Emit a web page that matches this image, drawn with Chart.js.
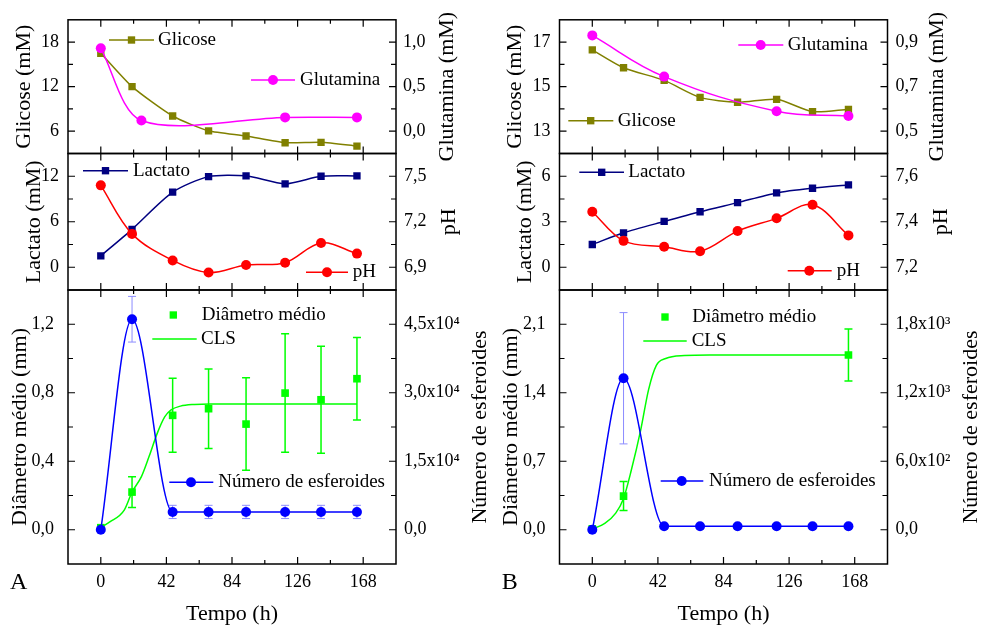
<!DOCTYPE html>
<html lang="pt">
<head>
<meta charset="utf-8">
<title>Cultivo de esferoides</title>
<script src="https://cdn.jsdelivr.net/npm/chart.js@4.4.1/dist/chart.umd.min.js"></script>
<style>
  body { margin: 0; background: #fff; }
  #fig { position: relative; width: 985px; height: 627px; overflow: hidden; }
  #fig canvas { position: absolute; top: 0; }
</style>
</head>
<body>
<div id="fig">
  <canvas id="aTopo" width="490" height="627" style="left:0"></canvas>
  <canvas id="aMeio" width="490" height="627" style="left:0"></canvas>
  <canvas id="aBase" width="490" height="627" style="left:0"></canvas>
  <canvas id="bTopo" width="495" height="627" style="left:490px"></canvas>
  <canvas id="bMeio" width="495" height="627" style="left:490px"></canvas>
  <canvas id="bBase" width="495" height="627" style="left:490px"></canvas>
</div>
<script>
// --- DADOS ---
const tempo = [0, 20, 46, 69, 93, 118, 141, 164];   // h
const xMaiores = [0, 42, 84, 126, 168];
const xMenores = [21, 63, 105, 147];

// Painel A
const glicoseA = [16.5, 12.0, 8.05, 6.05, 5.35, 4.45, 4.5, 4.0];
const tempoGlutaminaA = [0, 26, 118, 164];
const glutaminaA = [0.93, 0.12, 0.155, 0.155];
const lactatoA = [1.5, 5.0, 9.9, 11.95, 12.05, 11.0, 12.0, 12.05];
const phA = [7.44, 7.12, 6.945, 6.865, 6.915, 6.93, 7.06, 6.99];
const diametroA = [0.012, 0.22, 0.668, 0.707, 0.617, 0.798, 0.759, 0.882];
const erroDiametroA = [0, 0.09, 0.216, 0.232, 0.27, 0.346, 0.312, 0.241];
const tempoClsA = [0, 6, 15, 20, 26, 31, 36, 41, 45, 51, 60, 70, 164];
const clsA = [0.014, 0.047, 0.115, 0.22, 0.31, 0.43, 0.56, 0.66, 0.70, 0.722, 0.732, 0.735, 0.735];
const esferoidesA = [0, 46100, 3900, 3900, 3900, 3900, 3900, 3900];
const erroEsferoidesA = [0, 5000, 1450, 1450, 1450, 1450, 1450, 1450];

// Painel B
const glicoseB = [16.65, 15.85, 15.28, 14.52, 14.3, 14.43, 13.88, 13.98];
const tempoGlutaminaB = [0, 46, 118, 164];
const glutaminaB = [0.93, 0.745, 0.59, 0.568];
const lactatoB = [1.5, 2.27, 3.02, 3.66, 4.26, 4.9, 5.21, 5.43];
const phB = [7.444, 7.316, 7.29, 7.27, 7.359, 7.415, 7.475, 7.34];
const tempoDiametroB = [0, 20, 164];
const diametroB = [0.01, 0.344, 1.786];
const erroDiametroB = [0, 0.148, 0.265];
const tempoClsB = [0, 8, 15, 20, 25, 31, 36, 41, 47, 59, 75, 164];
const clsB = [0.007, 0.065, 0.17, 0.32, 0.61, 1.02, 1.43, 1.68, 1.75, 1.78, 1.786, 1.786];
const esferoidesB = [0, 1327, 30, 30, 30, 30, 30, 30];
const erroEsferoidesB = [0, 575, 0, 0, 0, 0, 0, 0];

// Marcas dos eixos y (maiores com rótulo, menores sem)
const ticksGlicoseA = [6, 12, 18], menoresGlicoseA = [9, 15];
const ticksGlutaminaA = [0, 0.5, 1.0], menoresGlutaminaA = [0.25, 0.75];
const ticksLactatoA = [0, 6, 12], menoresLactatoA = [3, 9];
const ticksPhA = [6.9, 7.2, 7.5], menoresPhA = [7.05, 7.35];
const ticksDiametroA = [0, 0.4, 0.8, 1.2], menoresDiametroA = [0.2, 0.6, 1.0];
const ticksEsferoidesA = [0, 15000, 30000, 45000], menoresEsferoidesA = [7500, 22500, 37500];
const ticksGlicoseB = [13, 15, 17], menoresGlicoseB = [14, 16];
const ticksGlutaminaB = [0.5, 0.7, 0.9], menoresGlutaminaB = [0.6, 0.8];
const ticksLactatoB = [0, 3, 6], menoresLactatoB = [1.5, 4.5];
const ticksPhB = [7.2, 7.4, 7.6], menoresPhB = [7.3, 7.5];
const ticksDiametroB = [0, 0.7, 1.4, 2.1], menoresDiametroB = [0.35, 1.05, 1.75];
const ticksEsferoidesB = [0, 600, 1200, 1800], menoresEsferoidesB = [300, 900, 1500];
// --- FIM DOS DADOS ---

const fonte = '"Liberation Serif", "Times New Roman", serif';
const OLIVA = '#808000', MAGENTA = '#ff00ff', MARINHO = '#000080', VERMELHO = '#ff0000',
      VERDE = '#00ff00', AZUL = '#0000ff', AZUL_ERRO = '#8c8cff';

const virgula = (v, d) => v.toFixed(d).replace('.', ',');
const expoentes = { 2: '²', 3: '³', 4: '⁴' };
const cientifico = v => {
  if (v === 0) return '0,0';
  const e = Math.floor(Math.log10(v) + 1e-9);
  return virgula(v / Math.pow(10, e), 1) + 'x10' + expoentes[e];
};
const pts = (xs, ys) => xs.map((x, i) => ({ x: x, y: ys[i] }));

function serie(xs, ys, cor, forma, eixo, extra) {
  return Object.assign({
    data: pts(xs, ys), yAxisID: eixo,
    borderColor: cor, backgroundColor: cor, borderWidth: 1.5,
    pointStyle: forma, pointRadius: forma === 'rect' ? 5.2 : 5,
    pointBorderWidth: 0, pointBackgroundColor: cor, tension: 0.3
  }, extra || {});
}

function marcaPonto(ctx, forma, x, y, r, cor) {
  ctx.fillStyle = cor;
  if (forma === 'rect') {
    const s = r * Math.SQRT2;
    ctx.fillRect(x - s / 2, y - s / 2, s, s);
  } else {
    ctx.beginPath(); ctx.arc(x, y, r, 0, 2 * Math.PI); ctx.fill();
  }
}

const paineis = {};

// moldura, marcas internas, barras de erro, títulos e legendas
const moldura = {
  id: 'moldura',
  beforeDatasetsDraw(chart) {
    const ctx = chart.ctx;
    chart.data.datasets.forEach((ds, i) => {
      if (!ds.erros) return;
      const meta = chart.getDatasetMeta(i);
      const esc = chart.scales[ds.yAxisID];
      ctx.save();
      ctx.strokeStyle = ds.corErro;
      ctx.lineWidth = ds.larguraErro;
      ds.erros.forEach((e, j) => {
        if (!e) return;
        const x = meta.data[j].x, v = ds.data[j].y;
        const y1 = esc.getPixelForValue(v + e), y2 = esc.getPixelForValue(v - e);
        ctx.beginPath();
        ctx.moveTo(x, y1); ctx.lineTo(x, y2);
        ctx.moveTo(x - 4, y1); ctx.lineTo(x + 4, y1);
        ctx.moveTo(x - 4, y2); ctx.lineTo(x + 4, y2);
        ctx.stroke();
      });
      ctx.restore();
    });
  },
  afterDraw(chart) {
    const p = paineis[chart.canvas.id];
    const ctx = chart.ctx, a = chart.chartArea, sc = chart.scales;
    ctx.save();
    ctx.strokeStyle = '#000';
    ctx.lineWidth = 1.5;
    ctx.strokeRect(a.left, a.top, a.right - a.left, a.bottom - a.top);

    ctx.lineWidth = 1.2;
    ctx.beginPath();
    const tracosX = (vals, len) => vals.forEach(v => {
      const px = sc.x.getPixelForValue(v);
      ctx.moveTo(px, a.top); ctx.lineTo(px, a.top + len);
      ctx.moveTo(px, a.bottom); ctx.lineTo(px, a.bottom - len);
    });
    const tracosY = (esc, vals, len, lado) => vals.forEach(v => {
      const py = esc.getPixelForValue(v);
      if (lado < 0) { ctx.moveTo(a.left, py); ctx.lineTo(a.left + len, py); }
      else { ctx.moveTo(a.right, py); ctx.lineTo(a.right - len, py); }
    });
    tracosX(xMaiores, 7); tracosX(xMenores, 4);
    tracosY(sc.y, p.y.ticks, 7, -1); tracosY(sc.y, p.y.menores, 5, -1);
    tracosY(sc.y1, p.y1.ticks, 7, 1); tracosY(sc.y1, p.y1.menores, 5, 1);
    ctx.stroke();

    // títulos dos eixos y (ambos lidos de baixo para cima)
    ctx.fillStyle = '#000';
    ctx.font = '22px ' + fonte;
    ctx.textAlign = 'center';
    ctx.textBaseline = 'middle';
    const cy = (a.top + a.bottom) / 2;
    [p.tituloEsq, p.tituloDir].forEach(t => {
      ctx.save();
      ctx.translate(t[1], cy);
      ctx.rotate(-Math.PI / 2);
      ctx.fillText(t[0], 0, 0);
      ctx.restore();
    });
    if (p.base) {
      ctx.fillText('Tempo (h)', (a.left + a.right) / 2, 614.3);
      ctx.font = '24px ' + fonte;
      ctx.textAlign = 'left';
      ctx.textBaseline = 'alphabetic';
      ctx.fillText(p.letra[0], p.letra[1], 589);
    }

    // legendas
    ctx.font = '19px ' + fonte;
    ctx.textAlign = 'left';
    ctx.textBaseline = 'middle';
    p.legenda.forEach(it => {
      if (it.linha) {
        ctx.strokeStyle = it.cor; ctx.lineWidth = 1.5;
        ctx.beginPath(); ctx.moveTo(it.linha[0], it.y); ctx.lineTo(it.linha[1], it.y); ctx.stroke();
      }
      if (it.forma) marcaPonto(ctx, it.forma, it.mx, it.y, it.forma === 'rect' ? 5.2 : 5, it.cor);
      ctx.fillStyle = '#000';
      ctx.fillText(it.txt, it.tx, it.y);
    });
    ctx.restore();
  }
};

function eixoY(p, lado, W) {
  const c = p[lado];
  return {
    type: 'linear', position: lado === 'y' ? 'left' : 'right',
    min: c.min, max: c.max,
    grid: { display: false, drawTicks: false }, border: { display: false },
    afterBuildTicks: s => { s.ticks = c.ticks.map(v => ({ value: v })); },
    afterFit: s => { s.width = lado === 'y' ? p.left : W - p.right; },
    ticks: { callback: c.fmt, padding: c.pad, color: '#000', font: { family: fonte, size: 18 } }
  };
}

function criar(id, p) {
  const canvas = document.getElementById(id);
  const W = canvas.width;
  paineis[id] = p;
  return new Chart(canvas, {
    type: 'line',
    data: { datasets: p.datasets },
    options: {
      responsive: false, animation: false, devicePixelRatio: 1,
      layout: { padding: { top: p.top, bottom: p.base ? 0 : 627 - p.bottom, left: 0, right: 0 } },
      plugins: { legend: { display: false }, tooltip: { enabled: false } },
      scales: {
        x: {
          type: 'linear', min: -21, max: 189, display: !!p.base,
          grid: { display: false, drawTicks: false }, border: { display: false },
          afterBuildTicks: s => { s.ticks = xMaiores.map(v => ({ value: v })); },
          afterFit: s => { s.height = p.base ? 627 - p.bottom : 0; },
          ticks: { callback: v => String(v), padding: 7, maxRotation: 0, color: '#000', font: { family: fonte, size: 18 } }
        },
        y: eixoY(p, 'y', W),
        y1: eixoY(p, 'y1', W)
      }
    },
    plugins: [moldura]
  });
}

// ----- Coluna A -----
criar('aTopo', {
  top: 17, bottom: 153.5, left: 68, right: 396,
  y: { min: 3, max: 21, ticks: ticksGlicoseA, menores: menoresGlicoseA, fmt: v => virgula(v, 0), pad: 9 },
  y1: { min: -0.25, max: 1.25, ticks: ticksGlutaminaA, menores: menoresGlutaminaA, fmt: v => virgula(v, 1), pad: 7 },
  tituloEsq: ['Glicose (mM)', 24], tituloDir: ['Glutamina (mM)', 447],
  legenda: [
    { txt: 'Glicose', cor: OLIVA, forma: 'rect', linha: [109, 154], mx: 131.5, y: 40, tx: 158 },
    { txt: 'Glutamina', cor: MAGENTA, forma: 'circle', linha: [251, 295], mx: 273, y: 80, tx: 300 }
  ],
  datasets: [
    serie(tempoGlutaminaA, glutaminaA, MAGENTA, 'circle', 'y1', { tension: 0.3 }),
    serie(tempo, glicoseA, OLIVA, 'rect', 'y', { tension: 0.2 })
  ]
});

criar('aMeio', {
  top: 153.5, bottom: 290, left: 68, right: 396,
  y: { min: -3, max: 15, ticks: ticksLactatoA, menores: menoresLactatoA, fmt: v => virgula(v, 0), pad: 9 },
  y1: { min: 6.75, max: 7.65, ticks: ticksPhA, menores: menoresPhA, fmt: v => virgula(v, 1), pad: 8 },
  tituloEsq: ['Lactato (mM)', 34], tituloDir: ['pH', 449],
  legenda: [
    { txt: 'Lactato', cor: MARINHO, forma: 'rect', linha: [83, 128], mx: 105.5, y: 170.7, tx: 133 },
    { txt: 'pH', cor: VERMELHO, forma: 'circle', linha: [306, 348], mx: 327, y: 272.3, tx: 352.7 }
  ],
  datasets: [
    serie(tempo, phA, VERMELHO, 'circle', 'y1', { tension: 0.35 }),
    serie(tempo, lactatoA, MARINHO, 'rect', 'y', { tension: 0.25 })
  ]
});

criar('aBase', {
  base: true, letra: ['A', 10],
  top: 290, bottom: 564, left: 68, right: 396,
  y: { min: -0.2, max: 1.4, ticks: ticksDiametroA, menores: menoresDiametroA, fmt: v => virgula(v, 1), pad: 14 },
  y1: { min: -7500, max: 52500, ticks: ticksEsferoidesA, menores: menoresEsferoidesA, fmt: cientifico, pad: 8 },
  tituloEsq: ['Diâmetro médio (mm)', 20], tituloDir: ['Número de esferoides', 480],
  legenda: [
    { txt: 'Diâmetro médio', cor: VERDE, forma: 'rect', mx: 173.3, y: 315, tx: 201.7 },
    { txt: 'CLS', cor: VERDE, linha: [152.3, 196.7], y: 339, tx: 201 },
    { txt: 'Número de esferoides', cor: AZUL, forma: 'circle', linha: [169.3, 213.3], mx: 191, y: 482.3, tx: 218.3 }
  ],
  datasets: [
    serie(tempo, esferoidesA, AZUL, 'circle', 'y1', { cubicInterpolationMode: 'monotone', erros: erroEsferoidesA, corErro: AZUL_ERRO, larguraErro: 1 }),
    serie(tempo, diametroA, VERDE, 'rect', 'y', { showLine: false, pointRadius: 5.4, erros: erroDiametroA, corErro: VERDE, larguraErro: 1.5 }),
    serie(tempoClsA, clsA, VERDE, 'circle', 'y', { pointRadius: 0, cubicInterpolationMode: 'monotone' })
  ]
});

// ----- Coluna B -----
criar('bTopo', {
  top: 17, bottom: 153.5, left: 69.5, right: 397.5,
  y: { min: 12, max: 18, ticks: ticksGlicoseB, menores: menoresGlicoseB, fmt: v => virgula(v, 0), pad: 9 },
  y1: { min: 0.4, max: 1.0, ticks: ticksGlutaminaB, menores: menoresGlutaminaB, fmt: v => virgula(v, 1), pad: 8 },
  tituloEsq: ['Glicose (mM)', 25], tituloDir: ['Glutamina (mM)', 447.5],
  legenda: [
    { txt: 'Glutamina', cor: MAGENTA, forma: 'circle', linha: [248.3, 293.3], mx: 270.7, y: 45, tx: 297.7 },
    { txt: 'Glicose', cor: OLIVA, forma: 'rect', linha: [78.3, 123.3], mx: 100.7, y: 120.7, tx: 127.7 }
  ],
  datasets: [
    serie(tempoGlutaminaB, glutaminaB, MAGENTA, 'circle', 'y1', { tension: 0.4 }),
    serie(tempo, glicoseB, OLIVA, 'rect', 'y', { tension: 0.25 })
  ]
});

criar('bMeio', {
  top: 153.5, bottom: 290, left: 69.5, right: 397.5,
  y: { min: -1.5, max: 7.5, ticks: ticksLactatoB, menores: menoresLactatoB, fmt: v => virgula(v, 0), pad: 9 },
  y1: { min: 7.1, max: 7.7, ticks: ticksPhB, menores: menoresPhB, fmt: v => virgula(v, 1), pad: 8 },
  tituloEsq: ['Lactato (mM)', 35], tituloDir: ['pH', 451],
  legenda: [
    { txt: 'Lactato', cor: MARINHO, forma: 'rect', linha: [89.3, 134], mx: 111.7, y: 172.3, tx: 138.3 },
    { txt: 'pH', cor: VERMELHO, forma: 'circle', linha: [297.7, 341.7], mx: 319.3, y: 270.7, tx: 346.7 }
  ],
  datasets: [
    serie(tempo, phB, VERMELHO, 'circle', 'y1', { tension: 0.35 }),
    serie(tempo, lactatoB, MARINHO, 'rect', 'y', { tension: 0.25 })
  ]
});

criar('bBase', {
  base: true, letra: ['B', 11.7],
  top: 290, bottom: 564, left: 69.5, right: 397.5,
  y: { min: -0.35, max: 2.45, ticks: ticksDiametroB, menores: menoresDiametroB, fmt: v => virgula(v, 1), pad: 14 },
  y1: { min: -300, max: 2100, ticks: ticksEsferoidesB, menores: menoresEsferoidesB, fmt: cientifico, pad: 8 },
  tituloEsq: ['Diâmetro médio (mm)', 21.7], tituloDir: ['Número de esferoides', 481.5],
  legenda: [
    { txt: 'Diâmetro médio', cor: VERDE, forma: 'rect', mx: 175, y: 317, tx: 202.3 },
    { txt: 'CLS', cor: VERDE, linha: [153.3, 196.7], y: 341, tx: 201.7 },
    { txt: 'Número de esferoides', cor: AZUL, forma: 'circle', linha: [170.7, 213.3], mx: 191.7, y: 481, tx: 219 }
  ],
  datasets: [
    serie(tempo, esferoidesB, AZUL, 'circle', 'y1', { cubicInterpolationMode: 'monotone', erros: erroEsferoidesB, corErro: AZUL_ERRO, larguraErro: 1 }),
    serie(tempoDiametroB, diametroB, VERDE, 'rect', 'y', { showLine: false, pointRadius: 5.4, erros: erroDiametroB, corErro: VERDE, larguraErro: 1.5 }),
    serie(tempoClsB, clsB, VERDE, 'circle', 'y', { pointRadius: 0, cubicInterpolationMode: 'monotone' })
  ]
});
</script>
</body>
</html>
